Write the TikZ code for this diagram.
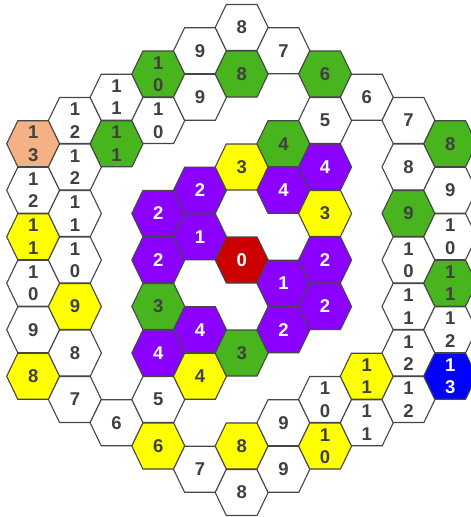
\documentclass[tikz,border=0pt]{standalone}
\usepackage{fontspec}
\newfontfamily\hexfont{Liberation Sans}
\definecolor{hgreen}{RGB}{72,180,30}
\definecolor{hpurple}{RGB}{140,0,255}
\definecolor{hyellow}{RGB}{255,255,0}
\definecolor{hred}{RGB}{204,0,0}
\definecolor{hblue}{RGB}{0,0,255}
\definecolor{horange}{RGB}{244,177,131}
\definecolor{hline}{RGB}{70,70,70}
\definecolor{htext}{RGB}{64,64,64}
\tikzset{
  hexline/.style={draw=hline,line width=1.1pt,line join=miter},
  wcell/.style={hexline,fill=white},
  gcell/.style={hexline,fill=hgreen},
  pcell/.style={hexline,fill=hpurple},
  ycell/.style={hexline,fill=hyellow},
  rcell/.style={hexline,fill=hred},
  bcell/.style={hexline,fill=hblue},
  ocell/.style={hexline,fill=horange},
  dlabel/.style={inner sep=0pt,align=center,text=htext,font=\hexfont\bfseries\fontsize{18.5}{22.5}\selectfont},
  llabel/.style={dlabel,text=white},
}
% #1 name, #2 column, #3 half-row, #4 cell style, #5 label style, #6 text
\newcommand\hx[6]{%
  \coordinate (#1c) at ({241.7+41.7*(#2)},{-260-23.25*(#3)});
  \draw[#4] (#1c) ++(-26.5,0) -- ++(11.1,23) -- ++(30.8,0) -- ++(11.1,-23)
        -- ++(-11.1,-23) -- ++(-30.8,0) -- cycle;
  \node[#5] (#1) at (#1c) {#6};
}
\begin{document}
\begin{tikzpicture}[x=1pt,y=1pt]
\useasboundingbox (0,0) rectangle (471,-517);
% column -5
\hx{a1}{-5}{-5}{ocell}{dlabel}{1\\3}
\hx{a2}{-5}{-3}{wcell}{dlabel}{1\\2}
\hx{a3}{-5}{-1}{ycell}{dlabel}{1\\1}
\hx{a4}{-5}{1}{wcell}{dlabel}{1\\0}
\hx{a5}{-5}{3}{wcell}{dlabel}{9}
\hx{a6}{-5}{5}{ycell}{dlabel}{8}
% column -4
\hx{b1}{-4}{-6}{wcell}{dlabel}{1\\2}
\hx{b2}{-4}{-4}{wcell}{dlabel}{1\\2}
\hx{b3}{-4}{-2}{wcell}{dlabel}{1\\1}
\hx{b4}{-4}{0}{wcell}{dlabel}{1\\0}
\hx{b5}{-4}{2}{ycell}{dlabel}{9}
\hx{b6}{-4}{4}{wcell}{dlabel}{8}
\hx{b7}{-4}{6}{wcell}{dlabel}{7}
% column -3
\hx{c1}{-3}{-7}{wcell}{dlabel}{1\\1}
\hx{c2}{-3}{-5}{gcell}{dlabel}{1\\1}
\hx{c3}{-3}{7}{wcell}{dlabel}{6}
% column -2
\hx{d1}{-2}{-8}{gcell}{dlabel}{1\\0}
\hx{d2}{-2}{-6}{wcell}{dlabel}{1\\0}
\hx{d3}{-2}{-2}{pcell}{llabel}{2}
\hx{d4}{-2}{0}{pcell}{llabel}{2}
\hx{d5}{-2}{2}{gcell}{dlabel}{3}
\hx{d6}{-2}{4}{pcell}{llabel}{4}
\hx{d7}{-2}{6}{wcell}{dlabel}{5}
\hx{d8}{-2}{8}{ycell}{dlabel}{6}
% column -1
\hx{e1}{-1}{-9}{wcell}{dlabel}{9}
\hx{e2}{-1}{-7}{wcell}{dlabel}{9}
\hx{e3}{-1}{-3}{pcell}{llabel}{2}
\hx{e4}{-1}{-1}{pcell}{llabel}{1}
\hx{e5}{-1}{3}{pcell}{llabel}{4}
\hx{e6}{-1}{5}{ycell}{dlabel}{4}
\hx{e7}{-1}{9}{wcell}{dlabel}{7}
% column 0
\hx{f1}{0}{-10}{wcell}{dlabel}{8}
\hx{f2}{0}{-8}{gcell}{dlabel}{8}
\hx{f3}{0}{-4}{ycell}{dlabel}{3}
\hx{f4}{0}{0}{rcell}{llabel}{0}
\hx{f5}{0}{4}{gcell}{dlabel}{3}
\hx{f6}{0}{8}{ycell}{dlabel}{8}
\hx{f7}{0}{10}{wcell}{dlabel}{8}
% column 1
\hx{g1}{1}{-9}{wcell}{dlabel}{7}
\hx{g2}{1}{-5}{gcell}{dlabel}{4}
\hx{g3}{1}{-3}{pcell}{llabel}{4}
\hx{g4}{1}{1}{pcell}{llabel}{1}
\hx{g5}{1}{3}{pcell}{llabel}{2}
\hx{g6}{1}{7}{wcell}{dlabel}{9}
\hx{g7}{1}{9}{wcell}{dlabel}{9}
% column 2
\hx{h1}{2}{-8}{gcell}{dlabel}{6}
\hx{h2}{2}{-6}{wcell}{dlabel}{5}
\hx{h3}{2}{-4}{pcell}{llabel}{4}
\hx{h4}{2}{-2}{ycell}{dlabel}{3}
\hx{h5}{2}{0}{pcell}{llabel}{2}
\hx{h6}{2}{2}{pcell}{llabel}{2}
\hx{h7}{2}{6}{wcell}{dlabel}{1\\0}
\hx{h8}{2}{8}{ycell}{dlabel}{1\\0}
% column 3
\hx{i1}{3}{-7}{wcell}{dlabel}{6}
\hx{i2}{3}{5}{ycell}{dlabel}{1\\1}
\hx{i3}{3}{7}{wcell}{dlabel}{1\\1}
% column 4
\hx{j1}{4}{-6}{wcell}{dlabel}{7}
\hx{j2}{4}{-4}{wcell}{dlabel}{8}
\hx{j3}{4}{-2}{gcell}{dlabel}{9}
\hx{j4}{4}{0}{wcell}{dlabel}{1\\0}
\hx{j5}{4}{2}{wcell}{dlabel}{1\\1}
\hx{j6}{4}{4}{wcell}{dlabel}{1\\2}
\hx{j7}{4}{6}{wcell}{dlabel}{1\\2}
% column 5
\hx{k1}{5}{-5}{gcell}{dlabel}{8}
\hx{k2}{5}{-3}{wcell}{dlabel}{9}
\hx{k3}{5}{-1}{wcell}{dlabel}{1\\0}
\hx{k4}{5}{1}{gcell}{dlabel}{1\\1}
\hx{k5}{5}{3}{wcell}{dlabel}{1\\2}
\hx{k6}{5}{5}{bcell}{llabel}{1\\3}
\end{tikzpicture}
\end{document}
